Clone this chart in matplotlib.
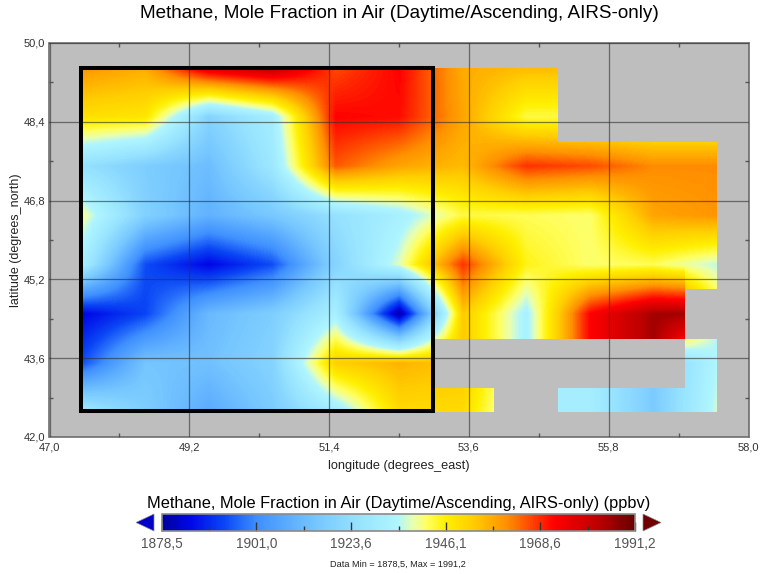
import numpy as np
import matplotlib
matplotlib.use("Agg")
import matplotlib.pyplot as plt
from matplotlib.colors import LinearSegmentedColormap, Normalize
from matplotlib.cm import ScalarMappable
from matplotlib.path import Path
from matplotlib.patches import Polygon, Rectangle
from matplotlib.ticker import FixedLocator

plt.rcParams['font.family'] = ['Liberation Sans', 'DejaVu Sans']

TITLE = "Methane, Mole Fraction in Air (Daytime/Ascending, AIRS-only)"
lons = [47.5, 48.5, 49.5, 50.5, 51.5, 52.5, 53.5, 54.5, 55.5, 56.5, 57.5]
lats = [49.5, 48.5, 47.5, 46.5, 45.5, 44.5, 43.5, 42.5]
nan = float('nan')
row_495 = [1960, 1957, 1978, 1983, 1966, 1972, 1957, 1955, nan, nan, nan]
row_485 = [1949, 1948, 1920, 1931, 1972, 1971, 1958, 1943, nan, nan, nan]
row_475 = [1925, 1918, 1913, 1928, 1965, 1958, 1955, 1968, 1966, 1961, 1961]
row_465 = [1940, 1919, 1910, 1916, 1925, 1932, 1943, 1942, 1941, 1958, 1960]
row_455 = [1932, 1894, 1885, 1894, 1920, 1938, 1968, 1945, 1941, 1942, 1936]
row_445 = [1885, 1893, 1912, 1918, 1932, 1878.5, 1953, 1933, 1972, 1985, nan]
row_435 = [1894, 1915, 1914, 1920, 1952, 1956, nan, nan, nan, nan, 1935]
row_425 = [1930, 1918, 1908, 1917, 1930, 1950, 1950, nan, 1931, 1917, 1937]

vmin, vmax = 1878.5, 1991.2
bar_ticks = [1878.5, 1901.0, 1923.6, 1946.1, 1968.6, 1991.2]
bar_labels = ['1878,5', '1901,0', '1923,6', '1946,1', '1968,6', '1991,2']
x_ticks = [47.0, 49.2, 51.4, 53.6, 55.8, 58.0]
y_ticks = [42.0, 43.6, 45.2, 46.8, 48.4, 50.0]

cmap = LinearSegmentedColormap.from_list('airs', [
    (0.00, '#0000a0'), (0.06, '#0008e8'), (0.13, '#0a46f5'), (0.20, '#3f90ff'),
    (0.33, '#78c8ff'), (0.42, '#98e4ff'), (0.50, '#b0f6ff'), (0.53, '#e8ffb0'),
    (0.56, '#ffff60'), (0.60, '#fff000'), (0.66, '#ffcc00'), (0.73, '#ff9000'),
    (0.80, '#ff2a00'), (0.83, '#ff0000'), (0.92, '#c00000'), (1.00, '#680000')])
norm = Normalize(vmin, vmax)

values = np.array([row_495, row_485, row_475, row_465, row_455, row_445, row_435, row_425], float)


def ffill(a):
    for r in a:
        for j in range(1, len(r)):
            if np.isnan(r[j]):
                r[j] = r[j - 1]


# upper layer: gaps continue the neighbouring row / value
upper = values.copy()
upper[6, 6:10] = upper[5, 6:10]
ffill(upper)
upper[7, 7] = upper[7, 8]
# lower layer: the row at 43.5 continues the row at 42.5
lower = upper.copy()
lower[6, 6:10] = lower[7, 6:10]
lower[5, 10] = lower[6, 10]
# east edge above the gap at 44.5
edge = upper.copy()
edge[5, 10] = 1946

# cells that hold data: (lon0, lon1, lat0, lat1)
upper_cells = [(47.5, 55, 48, 49.5), (47.5, 57.5, 45.5, 48), (47.5, 57, 45, 45.5),
               (47.5, 57, 44, 45), (47.5, 53, 43, 44), (47.5, 54, 42.5, 43)]
lower_cells = [(57, 57.5, 43, 44), (55, 57.5, 42.5, 43)]
edge_cells = [(57, 57.5, 45, 45.5)]


def rect_path(cells):
    verts, codes = [], []
    for x0, x1, y0, y1 in cells:
        verts += [(x0, y0), (x1, y0), (x1, y1), (x0, y1), (x0, y0)]
        codes += [Path.MOVETO, Path.LINETO, Path.LINETO, Path.LINETO, Path.CLOSEPOLY]
    return Path(verts, codes)


W, H = 760, 574
fig = plt.figure(figsize=(W / 100, H / 100), dpi=100)
ax = fig.add_axes([49.5 / W, 1 - 437 / H, 699 / W, 394 / H], facecolor='#bebebe')
for grid, cells in [(upper, upper_cells), (lower, lower_cells), (edge, edge_cells)]:
    im = ax.imshow(grid, extent=(47, 58, 42, 50), cmap=cmap, norm=norm, origin='upper',
                   interpolation='bilinear', aspect='auto', zorder=1)
    im.set_clip_path(rect_path(cells), ax.transData)
ax.set_xlim(47, 58)
ax.set_ylim(42, 50)

for s in ax.spines.values():
    s.set_color('#7a7a7a')
    s.set_linewidth(1.3)
ax.xaxis.set_major_locator(FixedLocator(x_ticks))
ax.yaxis.set_major_locator(FixedLocator(y_ticks))
ax.set_xticks([(a + b) / 2 for a, b in zip(x_ticks, x_ticks[1:])], minor=True)
ax.set_yticks([(a + b) / 2 for a, b in zip(y_ticks, y_ticks[1:])], minor=True)
ax.set_xticklabels([f'{v:.1f}'.replace('.', ',') for v in x_ticks])
ax.set_yticklabels([f'{v:.1f}'.replace('.', ',') for v in y_ticks])
ax.tick_params(axis='x', which='major', length=0, labelsize=8, labelcolor='#333333', pad=4)
ax.tick_params(axis='y', which='major', length=0, labelsize=8, labelcolor='#333333', pad=3)
ax.tick_params(which='minor', length=3, width=1, color='#555555', direction='in',
               top=True, right=True)
ax.grid(True, which='major', color='#303030', alpha=0.62, linewidth=0.9)
ax.set_axisbelow(False)
ax.set_xlabel('longitude (degrees_east)', fontsize=9.2, color='#222222', labelpad=5.5)
ax.set_ylabel('latitude (degrees_north)', fontsize=9, color='#222222', labelpad=1)

ax.add_patch(Rectangle((47.5, 42.53), 5.53, 6.96, fill=False, edgecolor='black',
                       linewidth=2.9, joinstyle='miter', zorder=5))

fig.text(399 / W, 1 - 13.5 / H, TITLE, ha='center', va='center', fontsize=13.55, color='black')

cax = fig.add_axes([162 / W, 1 - 531 / H, 473 / W, 17 / H])
cb = fig.colorbar(ScalarMappable(norm=norm, cmap=cmap), cax=cax, orientation='horizontal')
cb.outline.set_edgecolor('#8a8a8a')
cb.outline.set_linewidth(1.2)
cb.set_ticks(bar_ticks)
cb.set_ticklabels(bar_labels)
cax.xaxis.set_minor_locator(FixedLocator([(a + b) / 2 for a, b in zip(bar_ticks, bar_ticks[1:])]))
cax.tick_params(which='major', direction='in', length=6.5, width=1.0, color='#333333',
                labelsize=9.8, labelcolor='#555555', pad=4)
cax.tick_params(which='minor', direction='in', length=3.5, width=1.0, color='#333333')
cax.add_patch(Polygon([(-8 / 473, 0.0), (-8 / 473, 1.0), (-26 / 473, 0.5)],
                      closed=True, transform=cax.transAxes, clip_on=False,
                      facecolor='#0000c8', edgecolor='#8a8a8a', linewidth=0.5))
cax.add_patch(Polygon([(1 + 8 / 473, 0.0), (1 + 8 / 473, 1.0), (1 + 26 / 473, 0.5)],
                      closed=True, transform=cax.transAxes, clip_on=False,
                      facecolor='#700000', edgecolor='#8a8a8a', linewidth=0.5))

fig.text(399 / W, 1 - 503.5 / H, TITLE + ' (ppbv)', ha='center', va='center', fontsize=11.77, color='black')
fig.text(398 / W, 1 - 564.5 / H, 'Data Min = 1878,5, Max = 1991,2', ha='center', va='center',
         fontsize=6.6, color='#222222')

fig.savefig('out.png', dpi=100)
